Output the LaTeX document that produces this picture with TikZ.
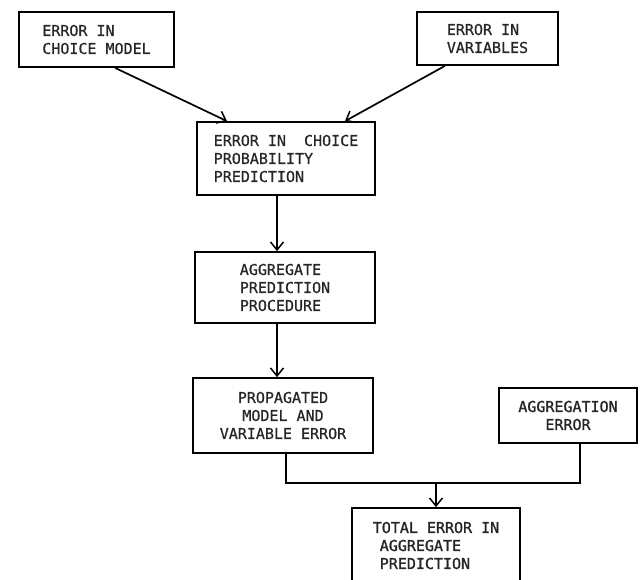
\documentclass[tikz,border=0pt]{standalone}
\usepackage{fontspec}
\newfontfamily\tfont[FakeBold=0.6]{DejaVu Sans Mono}
\newfontfamily\tfontb[FakeBold=1.3]{DejaVu Sans Mono}
\usetikzlibrary{arrows.meta}
\begin{document}
\begin{tikzpicture}[x=1pt,y=-1pt,
  box/.style={draw, line width=1.7pt, inner sep=0pt, font=\tfont\fontsize{15}{18}\selectfont, text=black!85},
  link/.style={line width=1.7pt},
  arr/.style={line width=1.7pt, -{Straight Barb[length=8pt,width=13pt,line width=1.5pt]}}]
\useasboundingbox (0,0) rectangle (644,579);
\clip (0,0) rectangle (644,579);
\fill[white] (0,0) rectangle (644,579);
\node[box, minimum width=155pt, minimum height=55pt, align=left] (b1) at (96.5,39.5) {ERROR IN\\CHOICE MODEL};
\node[box, minimum width=141pt, minimum height=53pt, align=left] (b2) at (487.5,38.5) {ERROR IN\\VARIABLES};
\node[box, minimum width=178pt, minimum height=73pt, align=left] (b3) at (286,158.5) {ERROR IN\ \ CHOICE\\PROBABILITY\\PREDICTION};
\node[box, minimum width=180pt, minimum height=71pt, align=left] (b4) at (285,287.5) {AGGREGATE\\PREDICTION\\PROCEDURE};
\node[box, minimum width=180pt, minimum height=75pt, align=center] (b5) at (283,415.5) {PROPAGATED\\MODEL AND\\VARIABLE ERROR};
\node[box, minimum width=138pt, minimum height=55pt, align=center, font=\tfontb\fontsize{15}{18}\selectfont] (b6) at (568,415.5) {AGGREGATION\\ERROR};
\node[box, minimum width=168pt, minimum height=75pt, align=left, font=\tfontb\fontsize{15}{18}\selectfont] (b7) at (436,545.5) {TOTAL ERROR IN\\\hspace*{7pt}AGGREGATE\\\hspace*{7pt}PREDICTION};
\coordinate (j) at (436,483);
\draw[arr] ([xshift=18.5pt]b1.south) -- ([xshift=-59pt]b3.north);
\draw[arr] ([xshift=-42.5pt]b2.south) -- ([xshift=59pt]b3.north);
\draw[arr] ([xshift=-9pt]b3.south) -- ([xshift=-8pt]b4.north);
\draw[arr] ([xshift=-8pt]b4.south) -- ([xshift=-6pt]b5.north);
\draw[link] ([xshift=3pt]b5.south) |- (j) -| ([xshift=12pt]b6.south);
\draw[arr] (j) -- (b7.north);
\end{tikzpicture}
\end{document}
